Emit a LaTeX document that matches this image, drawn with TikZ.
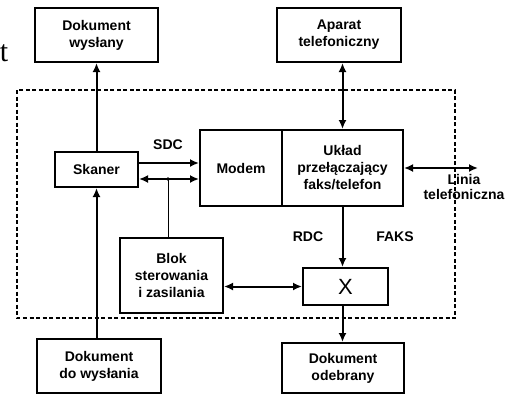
\documentclass[tikz,border=0pt]{standalone}
\usepackage{fontspec}
\setmainfont{Liberation Sans}
\newfontfamily\serifface{Liberation Serif}
\usetikzlibrary{positioning,arrows.meta}

\begin{document}
\begin{tikzpicture}[x=1pt,y=-1pt,
    box/.style={draw,line width=2pt,align=center,inner sep=0pt,font=\bfseries\fontsize{14}{17}\selectfont},
    lbl/.style={align=center,inner sep=0pt,font=\bfseries\fontsize{14}{15}\selectfont},
    arr/.style={line width=2pt,-{Latex[length=9pt,width=8pt]}},
    dbl/.style={line width=2pt,{Latex[length=9pt,width=8pt]}-{Latex[length=9pt,width=8pt]}}]
  \useasboundingbox (0,0) rectangle (511,394);

  % frame of the fax
  \draw[line width=1.3pt,dash pattern=on 4pt off 2.5pt] (17,90) rectangle (455,318);

  \node[font=\serifface\fontsize{30}{30}\selectfont,inner sep=0pt] (t) at (4,53) {t};

  \node[box,minimum width=123pt,minimum height=54pt] (sent) at (96.5,35) {Dokument\\wysłany};
  \node[box,minimum width=124pt,minimum height=54pt] (phone) at (339,35) {Aparat\\telefoniczny};
  \node[box,minimum width=83pt,minimum height=35pt] (scanner) at (96.5,169.5) {Skaner};
  \node[box,minimum width=82pt,minimum height=76pt] (modem) at (241,168) {Modem};
  \node[box,minimum width=121pt,minimum height=76pt] (switch) at (342.5,168) {Układ\\przełączający\\faks/telefon};
  \node[box,minimum width=103pt,minimum height=75pt] (ctrl) at (171.5,275.5) {Blok\\sterowania\\i zasilania};
  \node[box,minimum width=85pt,minimum height=37pt,font=\fontsize{22}{22}\selectfont] (mult) at (345.5,286.5) {X};
  \node[box,minimum width=124pt,minimum height=54pt] (tosend) at (99,366) {Dokument\\do wysłania};
  \node[box,minimum width=122pt,minimum height=50pt] (recv) at (343,368) {Dokument\\odebrany};

  \node[lbl] (sdc) at (168,145) {SDC};
  \node[lbl] (rdc) at (308,237) {RDC};
  \node[lbl] (faks) at (395,237) {FAKS};
  \node[lbl] (line) at (464,187) {Linia\\telefoniczna};
  \coordinate (lineend) at (478,168);
  \coordinate (j) at (168,179);

  % scanner path
  \draw[arr] (scanner.north) -- (scanner.north |- sent.south);
  \draw[arr] (scanner.south |- tosend.north) -- (scanner.south);
  \draw[arr] ([yshift=6.5pt]scanner.east) -- ([yshift=6.5pt]scanner.east -| modem.west);
  \draw[dbl] ([yshift=-9.5pt]scanner.east) -- ([yshift=-9.5pt]scanner.east -| modem.west);
  \fill (j) circle (1.8pt);
  \draw[line width=1pt] (j) -- (j |- ctrl.north);

  % switch and line
  \draw[dbl] (switch.north |- phone.south) -- (switch.north);
  \draw[dbl] (switch.east) -- (lineend);
  \draw[arr] (switch.south) -- (switch.south |- mult.north);
  \draw[dbl] (ctrl.east |- mult.west) -- (mult.west);
  \draw[arr] (switch.south |- mult.south) -- (switch.south |- recv.north);
\end{tikzpicture}
\end{document}
